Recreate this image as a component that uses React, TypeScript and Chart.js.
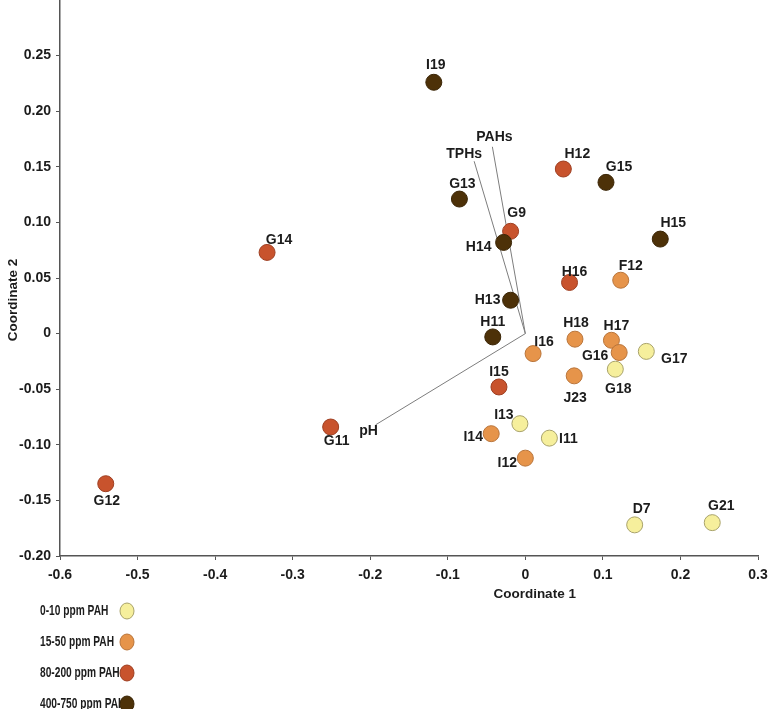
import React, { useEffect, useRef } from 'react';
import { Chart, registerables } from 'chart.js';
Chart.register(...registerables);

// ---- data ----
const groupNames = ['0-10 ppm PAH', '15-50 ppm PAH', '80-200 ppm PAH', '400-750 ppm PAH'];

const lowSamples = ['G17', 'G18', 'I13', 'I11', 'D7', 'G21'];
const lowX = [0.156, 0.116, -0.007, 0.031, 0.141, 0.241];
const lowY = [-0.016, -0.032, -0.081, -0.094, -0.172, -0.170];

const midSamples = ['I16', 'F12', 'H18', 'H17', 'G16', 'J23', 'I14', 'I12'];
const midX = [0.010, 0.123, 0.064, 0.111, 0.121, 0.063, -0.044, 0.000];
const midY = [-0.018, 0.048, -0.005, -0.006, -0.017, -0.038, -0.090, -0.112];

const highSamples = ['G14', 'G11', 'G12', 'H12', 'H16', 'G9', 'I15'];
const highX = [-0.333, -0.251, -0.541, 0.049, 0.057, -0.019, -0.034];
const highY = [0.073, -0.084, -0.135, 0.148, 0.046, 0.092, -0.048];

const topSamples = ['I19', 'G13', 'G15', 'H15', 'H14', 'H13', 'H11'];
const topX = [-0.118, -0.085, 0.104, 0.174, -0.028, -0.019, -0.042];
const topY = [0.226, 0.121, 0.136, 0.085, 0.082, 0.030, -0.003];

const vectorNames = ['PAHs', 'TPHs', 'pH'];
const vectorX = [-0.0425, -0.066, -0.193];
const vectorY = [0.168, 0.155, -0.082];

const xTickValues = [-0.6, -0.5, -0.4, -0.3, -0.2, -0.1, 0, 0.1, 0.2, 0.3];
const xTickLabels = ['-0.6', '-0.5', '-0.4', '-0.3', '-0.2', '-0.1', '0', '0.1', '0.2', '0.3'];
const yTickValues = [-0.2, -0.15, -0.1, -0.05, 0, 0.05, 0.1, 0.15, 0.2, 0.25];
const yTickLabels = ['-0.20', '-0.15', '-0.10', '-0.05', '0', '0.05', '0.10', '0.15', '0.20', '0.25'];

const xTitle = 'Coordinate 1';
const yTitle = 'Coordinate 2';

// ---- styles ----
const FONT = '"Liberation Sans", Arial, sans-serif';
const TEXT = '#1c1c1c';
const fills = ['#F6EF9C', '#E6944A', '#C8532D', '#4D3108'];
const borders = ['#A8A26A', '#B9753B', '#9E3F22', '#3A2506'];

const labelOffset: Record<string, [number, number]> = {
  I19: [2, -17], G13: [3, -15], G9: [6, -18], H14: [-25, 5], H13: [-23, 0], H11: [0, -15],
  I16: [11, -11], H12: [14, -15], G15: [13, -15], H15: [13, -16], H16: [5, -10], F12: [10, -14],
  H18: [1, -16], H17: [5, -14], G16: [-24, 4], G17: [28, 8], G18: [3, 20], J23: [1, 22],
  I15: [0, -15], I13: [-16, -9], I14: [-18, 3], I11: [19, 1], I12: [-18, 5], D7: [7, -16],
  G21: [9, -16], G14: [12, -12], G11: [6, 14], G12: [1, 17],
};
const vectorLabelOffset: Record<string, [number, number]> = {
  PAHs: [2, -10], TPHs: [-10, -7], pH: [-7, 6],
};

const groups = [
  { names: lowSamples, xs: lowX, ys: lowY },
  { names: midSamples, xs: midX, ys: midY },
  { names: highSamples, xs: highX, ys: highY },
  { names: topSamples, xs: topX, ys: topY },
];

const labelPlugin = {
  id: 'labels',
  afterDatasetsDraw(chart: any) {
    const ctx = chart.ctx;
    ctx.save();
    ctx.font = `bold 14px ${FONT}`;
    ctx.fillStyle = TEXT;
    ctx.textAlign = 'center';
    ctx.textBaseline = 'middle';
    groups.forEach((g, gi) => {
      const meta = chart.getDatasetMeta(gi);
      meta.data.forEach((el: any, i: number) => {
        const name = g.names[i];
        const off = labelOffset[name] || [0, -15];
        ctx.fillText(name, el.x + off[0], el.y + off[1]);
      });
    });
    vectorNames.forEach((n, vi) => {
      const meta = chart.getDatasetMeta(4 + vi);
      const el = meta.data[1];
      const off = vectorLabelOffset[n];
      ctx.fillText(n, el.x + off[0], el.y + off[1]);
    });
    // axis titles
    ctx.font = `bold 13.5px ${FONT}`;
    const xs = chart.scales.x;
    ctx.fillText(xTitle, xs.getPixelForValue(0.012), 594);
    ctx.save();
    ctx.translate(13, 300);
    ctx.rotate(-Math.PI / 2);
    ctx.fillText(yTitle, 0, 0);
    ctx.restore();
    // legend
    ctx.font = `bold 15px ${FONT}`;
    groupNames.forEach((n, i) => {
      const y = 611 + i * 31;
      ctx.save();
      ctx.textAlign = 'left';
      ctx.translate(40, y);
      ctx.scale(0.68, 1);
      ctx.fillText(n, 0, 0);
      ctx.restore();
      ctx.beginPath();
      ctx.ellipse(127, y, 7, 8, 0, 0, Math.PI * 2);
      ctx.fillStyle = fills[i];
      ctx.fill();
      ctx.lineWidth = 1;
      ctx.strokeStyle = borders[i];
      ctx.stroke();
      ctx.fillStyle = TEXT;
    });
    ctx.restore();
  },
};

export default function App() {
  const ref = useRef<HTMLCanvasElement>(null);
  useEffect(() => {
    if (!ref.current) return;
    const datasets: any[] = groups.map((g, gi) => ({
      type: 'scatter',
      label: groupNames[gi],
      data: g.xs.map((x, i) => ({ x, y: g.ys[i] })),
      backgroundColor: fills[gi],
      borderColor: borders[gi],
      borderWidth: 1,
      pointRadius: 8,
      order: 4 - gi,
    }));
    vectorNames.forEach((n, vi) => {
      datasets.push({
        type: 'line',
        label: n,
        data: [{ x: 0, y: 0 }, { x: vectorX[vi], y: vectorY[vi] }],
        borderColor: '#7d7d7d',
        borderWidth: 1,
        pointRadius: 0,
        fill: false,
        order: 20,
      });
    });
    const chart = new Chart(ref.current, {
      type: 'scatter',
      data: { datasets },
      options: {
        animation: false,
        responsive: false,
        maintainAspectRatio: false,
        layout: { autoPadding: false, padding: { left: 0, right: 11, top: 0, bottom: 0 } },
        plugins: { legend: { display: false }, tooltip: { enabled: false } },
        scales: {
          x: {
            type: 'linear',
            min: -0.6,
            max: 0.3,
            afterBuildTicks: (s: any) => { s.ticks = xTickValues.map((v) => ({ value: v })); },
            afterFit: (s: any) => { s.height = 153; s.paddingLeft = 0; s.paddingRight = 0; },
            ticks: {
              color: TEXT,
              font: { family: FONT, size: 14, weight: 'bold' },
              padding: 7,
              maxRotation: 0,
              callback: (v: any) => {
                const i = xTickValues.findIndex((t) => Math.abs(t - v) < 1e-9);
                return i >= 0 ? xTickLabels[i] : '';
              },
            },
            grid: { drawOnChartArea: false, tickLength: 4, tickColor: '#555' },
            border: { color: '#555', width: 1.5 },
          },
          y: {
            type: 'linear',
            min: -0.2,
            max: 0.3,
            afterBuildTicks: (s: any) => { s.ticks = yTickValues.map((v) => ({ value: v })); },
            afterFit: (s: any) => { s.width = 60; s.paddingTop = 0; s.paddingBottom = 0; },
            ticks: {
              color: TEXT,
              font: { family: FONT, size: 14, weight: 'bold' },
              padding: 5,
              callback: (v: any) => {
                const i = yTickValues.findIndex((t) => Math.abs(t - v) < 1e-9);
                return i >= 0 ? yTickLabels[i] : '';
              },
            },
            grid: { drawOnChartArea: false, tickLength: 4, tickColor: '#555' },
            border: { color: '#555', width: 1.5 },
          },
        },
      },
      plugins: [labelPlugin],
    } as any);
    return () => chart.destroy();
  }, []);
  return (
    <div style={{ position: 'fixed', left: 0, top: 0, width: 769, height: 709, background: '#fff' }}>
      <canvas ref={ref} width={769} height={709} style={{ width: 769, height: 709, display: 'block' }} />
    </div>
  );
}
